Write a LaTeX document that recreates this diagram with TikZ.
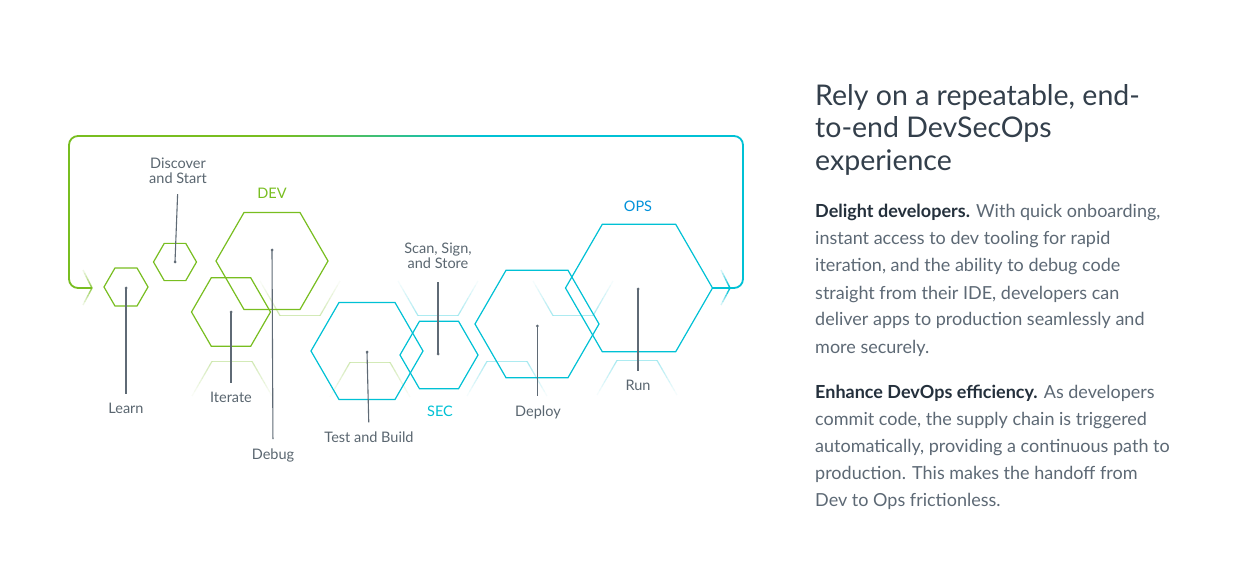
\documentclass[tikz,border=0pt]{standalone}
\usepackage{fontspec}
\setmainfont{Lato}
\usetikzlibrary{shapes.geometric}
\definecolor{vgreen}{HTML}{78BE20}
\definecolor{vcyan}{HTML}{00C1D5}
\definecolor{vblue}{HTML}{0091DA}
\definecolor{lblgray}{HTML}{5A6670}
\definecolor{headgray}{HTML}{333F4B}
\definecolor{bodygray}{HTML}{5D6975}
\definecolor{bolddark}{HTML}{24303C}
\definecolor{conngray}{HTML}{5F6A75}
\newcommand\ghosthex[5]{%
  \pgfmathsetmacro\gh{#3*0.866}%
  \draw[ghostline,#5,opacity=.32] ({#1-#3/2},{#2+#4*\gh}) -- ({#1+#3/2},{#2+#4*\gh});%
  \foreach \i in {0,...,7}{%
    \pgfmathsetmacro\ta{\i/8}\pgfmathsetmacro\tb{(\i+1)/8}\pgfmathsetmacro\op{0.32*(1-\i/8)}%
    \draw[ghostline,#5,opacity=\op] ({#1-#3/2-\ta*#3/2},{#2+#4*\gh*(1-\ta)}) -- ({#1-#3/2-\tb*#3/2},{#2+#4*\gh*(1-\tb)});%
    \draw[ghostline,#5,opacity=\op] ({#1+#3/2+\ta*#3/2},{#2+#4*\gh*(1-\ta)}) -- ({#1+#3/2+\tb*#3/2},{#2+#4*\gh*(1-\tb)});%
  }}
\newcommand\chevron[4]{% tip x, tip y, colour, max opacity
  \foreach \i in {0,...,5}{%
    \pgfmathsetmacro\ta{\i/6}\pgfmathsetmacro\tb{(\i+1)/6}\pgfmathsetmacro\op{#4*(1-\i/6)}%
    \draw[chevline,#3,opacity=\op] ({#1-9*\ta},{#2-18*\ta}) -- ({#1-9*\tb},{#2-18*\tb});%
    \draw[chevline,#3,opacity=\op] ({#1-9*\ta},{#2+17*\ta}) -- ({#1-9*\tb},{#2+17*\tb});%
  }}
\begin{document}
\begin{tikzpicture}[x=1pt,y=-1pt,
  hexbase/.style={regular polygon, regular polygon sides=6, inner sep=0pt, outer sep=0pt, draw, line width=1.2pt},
  hexdev/.style={hexbase, draw=vgreen},
  hexops/.style={hexbase, draw=vcyan},
  ghostline/.style={line width=1.2pt},
  loopline/.style={line width=1.8pt, line cap=butt},
  chevline/.style={line width=1.4pt, line cap=butt},
  lbl/.style={font=\fontsize{14.5}{15}\selectfont, text=lblgray, inner sep=0pt, align=center},
  phase/.style={font=\fontsize{14.5}{15}\selectfont, inner sep=0pt},
  conn/.style={draw=conngray, line width=1.1pt, shorten >=9pt},
  dot/.style={fill=conngray},
  head/.style={font=\fontsize{28.5}{32}\selectfont, text=headgray, inner sep=0pt, anchor=base west},
  body/.style={font=\fontsize{18}{27}\selectfont, text=bodygray, inner sep=0pt, anchor=base west}
]
\useasboundingbox (0,0) rectangle (1243,588);
\fill[white] (0,0) rectangle (1243,588);

% ghost half-hexagons
\ghosthex{300}{281}{40}{1}{vgreen}
\ghosthex{232}{396}{40}{-1}{vgreen}
\ghosthex{370}{397}{40}{-1}{vgreen}
\ghosthex{438}{281}{40}{1}{vcyan}
\ghosthex{507}{396}{40}{-1}{vcyan}
\ghosthex{573}{281}{40}{1}{vcyan}
\ghosthex{637}{395}{40}{-1}{vcyan}

% hexagons
\node[hexdev, minimum size=44pt] (learn) at (126,287) {};
\node[hexdev, minimum size=43pt] (disc) at (175,262) {};
\node[hexdev, minimum size=112pt] (dev) at (272,261) {};
\node[hexdev, minimum size=79pt] (iter) at (231,312) {};
\node[hexops, minimum size=112pt] (test) at (367,351) {};
\node[hexops, minimum size=78pt] (sec) at (439,355) {};
\node[hexops, minimum size=124pt] (deploy) at (537,324) {};
\node[hexops, minimum size=147pt] (ops) at (639,288) {};

% loop
\coordinate (lpR) at (743,288);
\coordinate (lpRT) at (743,136);
\coordinate (lpL) at (69,288);
\coordinate (lpLT) at (69,136);
\coordinate (gradR) at (480,136);
\coordinate (gradL) at (280,136);
\coordinate (tipL) at (92,288);
\draw[loopline, vcyan, rounded corners=9pt] (ops.east) -- (lpR) -- (lpRT) -- (gradR);
\foreach \i in {0,...,99}{%
  \pgfmathtruncatemacro\p{\i}%
  \draw[loopline, draw=vcyan!\p!vgreen] ({280+2*\i},136) -- ({282.3+2*\i},136);}
\draw[loopline, vgreen, rounded corners=9pt] (gradL) -- (lpLT) -- (lpL) -- (tipL);
\chevron{730}{288}{vcyan}{1}
\chevron{92}{288}{vgreen}{0.75}

% phase labels
\node[phase, text=vgreen] (devL) at (272,193) {DEV};
\node[phase, text=vcyan] (secL) at (440,411) {SEC};
\node[phase, text=vblue] (opsL) at (638,206) {OPS};

% step labels
\node[lbl] (learnL) at (126,408) {Learn};
\node[lbl] (discL) at (178,171) {Discover\\and Start};
\node[lbl] (iterL) at (231,397) {Iterate};
\node[lbl] (debugL) at (273,455) {Debug};
\node[lbl] (testL) at (369,437) {Test and Build};
\node[lbl] (scanL) at (438,255.5) {Scan, Sign,\\and Store};
\node[lbl] (deployL) at (538,412) {Deploy};
\node[lbl] (runL) at (638,385) {Run};

% connectors
\coordinate (learnD) at (126,288);
\coordinate (discD) at (175,262);
\coordinate (devD) at (272,250);
\coordinate (iterD) at (231,312);
\coordinate (testD) at (367,352);
\coordinate (secD) at (438,354);
\coordinate (deployD) at (537.3,326);
\coordinate (opsD) at (638,289);
\draw[conn] (learnD) -- (learnL.north);
\draw[conn, shorten >=10pt] (discD) -- (discL.south);
\draw[conn] (devD) -- (debugL.north);
\draw[conn] (iterD) -- (iterL.north);
\draw[conn] (testD) -- (testL.north);
\draw[conn, shorten >=13pt] (secD) -- (scanL.south);
\draw[conn] (deployD) -- (deployD |- deployL.north);
\draw[conn] (opsD) -- (runL.north);
\foreach \d in {learnD,discD,devD,iterD,testD,secD,deployD,opsD}{\fill[dot] (\d) circle (1.5pt);}

% right text
\node[head] (h1) at (815,106) {Rely on a repeatable, end-};
\node[head] (h2) at (815,138) {to-end DevSecOps};
\node[head] (h3) at (815,171) {experience};

\node[body] (a1) at (815,218) {{\bfseries\color{bolddark}Delight developers.} With quick onboarding,};
\node[body] (a2) at (815,245) {instant access to dev tooling for rapid};
\node[body] (a3) at (815,272) {iteration, and the ability to debug code};
\node[body] (a4) at (815,299) {straight from their IDE, developers can};
\node[body] (a5) at (815,326) {deliver apps to production seamlessly and};
\node[body] (a6) at (815,353) {more securely.};

\node[body] (b1) at (815,398) {{\bfseries\color{bolddark}Enhance DevOps efficiency.} As developers};
\node[body] (b2) at (815,425) {commit code, the supply chain is triggered};
\node[body] (b3) at (815,452) {automatically, providing a continuous path to};
\node[body] (b4) at (815,479) {production. This makes the handoff from};
\node[body] (b5) at (815,506) {Dev to Ops frictionless.};
\end{tikzpicture}
\end{document}
